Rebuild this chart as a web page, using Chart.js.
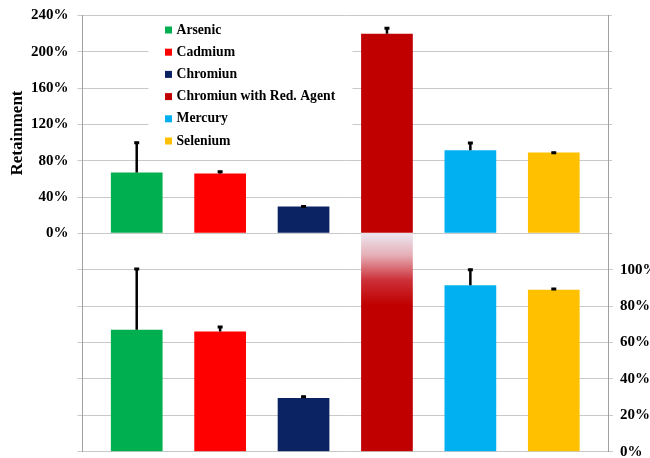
<!DOCTYPE html>
<html>
<head>
<meta charset="utf-8">
<script src="https://cdn.jsdelivr.net/npm/chart.js@4/dist/chart.umd.min.js"></script>
<style>
  html, body { margin: 0; padding: 0; background: #ffffff; }
  #wrap { position: relative; width: 650px; height: 458px; }
  #wrap canvas { position: absolute; left: 0; top: 0; }
</style>
</head>
<body>
<div id="wrap">
  <canvas id="upper" width="650" height="458"></canvas>
  <canvas id="lower" width="650" height="458"></canvas>
</div>
<script>
// Retention per metal (%), with upward error bars
const metals = ['Arsenic', 'Cadmium', 'Chromiun', 'Chromiun with Red. Agent', 'Mercury', 'Selenium'];
const retainment = [67, 66, 29.5, 220, 91.5, 89];
const errorUp = [34, 3, 1.2, 7, 9, 1];
const barColors = ['#00B050', '#FF0000', '#0B2363', '#C00000', '#00B0F0', '#FFC000'];

// Axis ticks: full range (left) and zoomed 0-100 % view (right)
const upperTicks = [0, 40, 80, 120, 160, 200, 240];
const lowerTicks = [0, 20, 40, 60, 80, 100];
const lowerMax = 120;
const yTitle = 'Retainment';

const serif = '"Liberation Serif", "Times New Roman", serif';
const gridColor = '#C9C9C9';
const axisColor = '#A0A0A0';

const points = retainment.map((v, i) => ({ x: i, y: v }));
const slots = metals.map((m, i) => i);

function fixedTicks(values) {
  return scale => { scale.ticks = values.map(v => ({ value: v })); };
}

// Fixed axis band width; no extra room reserved for label overhang
function fixedWidth(w) {
  return scale => {
    scale.width = w;
    scale.paddingTop = 0;
    scale.paddingBottom = 0;
  };
}

const xAxis = {
  type: 'linear', min: -0.65, max: 5.65, offset: false, display: false,
  grid: { offset: false },
  afterBuildTicks: fixedTicks(slots)
};

// Error bars: vertical line from bar top to value + error, small cap
const errorBars = {
  id: 'errorBars',
  afterDatasetsDraw(chart) {
    const { ctx, chartArea } = chart;
    const meta = chart.getDatasetMeta(0);
    const yScale = chart.scales[meta.yAxisID];
    ctx.save();
    ctx.beginPath();
    ctx.rect(chartArea.left, chartArea.top, chartArea.right - chartArea.left, chartArea.bottom - chartArea.top);
    ctx.clip();
    ctx.strokeStyle = '#000';
    meta.data.forEach((bar, i) => {
      const y0 = yScale.getPixelForValue(retainment[i]);
      const y1 = yScale.getPixelForValue(retainment[i] + errorUp[i]);
      ctx.lineWidth = 2.5;
      ctx.beginPath();
      ctx.moveTo(bar.x, y0);
      ctx.lineTo(bar.x, y1);
      ctx.stroke();
      ctx.lineWidth = 3;
      ctx.beginPath();
      ctx.moveTo(bar.x - 2.5, y1 + 1);
      ctx.lineTo(bar.x + 2.5, y1 + 1);
      ctx.stroke();
    });
    ctx.restore();
  }
};

// Legend box inside the upper panel, plus the rotated axis title
const insideLegend = {
  id: 'insideLegend',
  afterDatasetsDraw(chart) {
    const { ctx, chartArea } = chart;
    const boxLeft = chartArea.left + 66;
    const rowTop = chartArea.top + 14.5;
    const rowGap = 22.2;
    ctx.save();
    ctx.fillStyle = '#ffffff';
    ctx.fillRect(boxLeft, chartArea.top + 3, 204, 140);
    ctx.font = 'bold 13.7px ' + serif;
    ctx.textBaseline = 'middle';
    ctx.textAlign = 'left';
    metals.forEach((name, i) => {
      const cy = rowTop + i * rowGap;
      ctx.fillStyle = barColors[i];
      ctx.fillRect(boxLeft + 16.5, cy - 3.5, 7, 7);
      ctx.fillStyle = '#000';
      ctx.fillText(name, boxLeft + 28, cy);
    });
    ctx.restore();
  },
  afterDraw(chart) {
    const { ctx } = chart;
    ctx.save();
    ctx.translate(18, 133);
    ctx.rotate(-Math.PI / 2);
    ctx.font = 'bold 17px ' + serif;
    ctx.fillStyle = '#000';
    ctx.textAlign = 'center';
    ctx.textBaseline = 'middle';
    ctx.fillText(yTitle, 0, 0);
    ctx.restore();
  }
};

const tickFont = { family: serif, size: 15, weight: 'bold' };

// Upper panel: full 0-240 % range
new Chart(document.getElementById('upper'), {
  type: 'bar',
  data: {
    datasets: [{
      data: points,
      backgroundColor: barColors,
      borderWidth: 0,
      barPercentage: 0.62,
      categoryPercentage: 1,
      yAxisID: 'y'
    }]
  },
  options: {
    responsive: false,
    animation: false,
    devicePixelRatio: 1,
    layout: { padding: { top: 15.5, bottom: 224.7, left: 0, right: 0 } },
    plugins: { legend: { display: false }, tooltip: { enabled: false } },
    scales: {
      x: xAxis,
      y: {
        position: 'left',
        min: 0, max: 240,
        afterBuildTicks: fixedTicks(upperTicks),
        afterFit: fixedWidth(82.5),
        grid: { color: gridColor, tickLength: 5 },
        border: { color: axisColor },
        ticks: { font: tickFont, color: '#000', padding: 9, callback: v => v + '%' }
      },
      yR: {
        position: 'right',
        min: 0, max: 240,
        afterBuildTicks: fixedTicks(upperTicks),
        afterFit: fixedWidth(42),
        grid: { color: gridColor, tickLength: 4, drawOnChartArea: false },
        border: { color: axisColor },
        ticks: { display: false }
      }
    }
  },
  plugins: [errorBars, insideLegend]
});

// Lower panel: zoomed 0-100 % view, taller bars fade out at the top
new Chart(document.getElementById('lower'), {
  type: 'bar',
  data: {
    datasets: [{
      data: points,
      backgroundColor: c => {
        const i = c.dataIndex;
        const area = c.chart.chartArea;
        if (retainment[i] <= lowerMax || !area) return barColors[i];
        const g = c.chart.ctx.createLinearGradient(0, area.top, 0, area.top + 72);
        g.addColorStop(0, '#ECE6F0');
        g.addColorStop(0.3, '#E6B0B8');
        g.addColorStop(0.65, '#CD3038');
        g.addColorStop(1, barColors[i]);
        return g;
      },
      borderWidth: 0,
      barPercentage: 0.62,
      categoryPercentage: 1,
      yAxisID: 'yR'
    }]
  },
  options: {
    responsive: false,
    animation: false,
    devicePixelRatio: 1,
    layout: { padding: { top: 233.3, bottom: 6.3, left: 0, right: 0 } },
    plugins: { legend: { display: false }, tooltip: { enabled: false } },
    scales: {
      x: xAxis,
      yL: {
        position: 'left',
        min: 0, max: lowerMax,
        afterBuildTicks: fixedTicks(lowerTicks),
        afterFit: fixedWidth(82.5),
        grid: { color: gridColor, tickLength: 5, drawOnChartArea: false },
        border: { color: axisColor },
        ticks: { display: false }
      },
      yR: {
        position: 'right',
        min: 0, max: lowerMax,
        afterBuildTicks: fixedTicks(lowerTicks),
        afterFit: fixedWidth(42),
        grid: { color: gridColor, tickLength: 5 },
        border: { color: axisColor },
        ticks: { font: tickFont, color: '#000', padding: 7, callback: v => v + '%' }
      }
    }
  },
  plugins: [errorBars]
});
</script>
</body>
</html>
